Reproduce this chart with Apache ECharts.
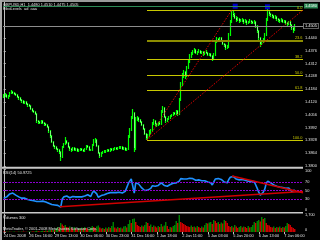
<!DOCTYPE html>
<html><head><meta charset="utf-8">
<script src="https://cdn.jsdelivr.net/npm/echarts@6/dist/echarts.min.js"></script>
<style>html,body{margin:0;padding:0;background:#000;overflow:hidden}#c{width:320px;height:240px}</style>
</head><body><div id="c"></div>
<script>
// ---- data (GBPUSD H1) ----
const opens = [
1.4145,1.4150,1.4155,1.4145,1.4150,1.4165,1.4170,1.4165,1.4160,1.4155,
1.4145,1.4140,1.4130,1.4125,1.4115,1.4120,1.4110,1.4105,1.4100,1.4085,
1.4075,1.4070,1.4060,1.4025,1.4020,1.4015,1.4025,1.4015,1.4010,1.4005,
1.3995,1.3975,1.3950,1.3920,1.3900,1.3895,1.3885,1.3880,1.3870,1.3845,
1.3895,1.3910,1.3925,1.3915,1.3895,1.3885,1.3880,1.3890,1.3880,1.3885,
1.3875,1.3880,1.3885,1.3880,1.3875,1.3885,1.3900,1.3895,1.3880,1.3880,
1.3905,1.3925,1.3930,1.3900,1.3865,1.3850,1.3865,1.3870,1.3870,1.3875,
1.3880,1.3875,1.3885,1.3880,1.3885,1.3890,1.3885,1.3890,1.3890,1.3895,
1.3885,1.3890,1.3880,1.3885,1.3945,1.3980,1.4040,1.4065,1.3890,1.4035,
1.4040,1.4030,1.4020,1.4005,1.3985,1.3960,1.3940,1.3950,1.3970,1.3975,
1.4010,1.4025,1.4010,1.4005,1.4015,1.4010,1.4070,1.4090,1.4045,1.4025,
1.4035,1.4040,1.4050,1.4055,1.4065,1.4060,1.4075,1.4060,1.4130,1.4210,
1.4255,1.4270,1.4250,1.4290,1.4320,1.4350,1.4360,1.4370,1.4380,1.4365,
1.4370,1.4375,1.4365,1.4370,1.4360,1.4370,1.4365,1.4355,1.4360,1.4350,
1.4335,1.4355,1.4420,1.4435,1.4430,1.4440,1.4425,1.4410,1.4405,1.4390,
1.4395,1.4455,1.4520,1.4560,1.4555,1.4540,1.4530,1.4535,1.4525,1.4525,
1.4530,1.4520,1.4525,1.4515,1.4520,1.4525,1.4520,1.4515,1.4520,1.4500,
1.4475,1.4440,1.4410,1.4420,1.4430,1.4455,1.4530,1.4570,1.4560,1.4555,
1.4550,1.4540,1.4545,1.4535,1.4530,1.4525,1.4530,1.4520,1.4525,1.4515,
1.4510,1.4520,1.4505,1.4490,1.4480];
const closes = [
1.4150,1.4155,1.4145,1.4150,1.4165,1.4170,1.4165,1.4160,1.4155,1.4145,
1.4140,1.4130,1.4125,1.4115,1.4120,1.4110,1.4105,1.4100,1.4085,1.4075,
1.4070,1.4060,1.4025,1.4020,1.4015,1.4025,1.4015,1.4010,1.4005,1.3995,
1.3975,1.3950,1.3920,1.3900,1.3895,1.3885,1.3880,1.3870,1.3845,1.3895,
1.3910,1.3925,1.3915,1.3895,1.3885,1.3880,1.3890,1.3880,1.3885,1.3875,
1.3880,1.3885,1.3880,1.3875,1.3885,1.3900,1.3895,1.3880,1.3880,1.3905,
1.3925,1.3930,1.3900,1.3865,1.3850,1.3865,1.3870,1.3870,1.3875,1.3880,
1.3875,1.3885,1.3880,1.3885,1.3890,1.3885,1.3890,1.3890,1.3895,1.3885,
1.3890,1.3880,1.3885,1.3945,1.3980,1.4040,1.4065,1.3890,1.4035,1.4040,
1.4030,1.4020,1.4005,1.3985,1.3960,1.3940,1.3950,1.3970,1.3975,1.4010,
1.4025,1.4010,1.4005,1.4015,1.4010,1.4070,1.4090,1.4045,1.4025,1.4035,
1.4040,1.4050,1.4055,1.4065,1.4060,1.4075,1.4060,1.4130,1.4210,1.4255,
1.4270,1.4250,1.4290,1.4320,1.4350,1.4360,1.4370,1.4380,1.4365,1.4370,
1.4375,1.4365,1.4370,1.4360,1.4370,1.4365,1.4355,1.4360,1.4350,1.4335,
1.4355,1.4420,1.4435,1.4430,1.4440,1.4425,1.4410,1.4405,1.4390,1.4395,
1.4455,1.4520,1.4560,1.4555,1.4540,1.4530,1.4535,1.4525,1.4525,1.4530,
1.4520,1.4525,1.4515,1.4520,1.4525,1.4520,1.4515,1.4520,1.4500,1.4475,
1.4440,1.4410,1.4420,1.4430,1.4455,1.4530,1.4570,1.4560,1.4555,1.4550,
1.4540,1.4545,1.4535,1.4530,1.4525,1.4530,1.4520,1.4525,1.4515,1.4510,
1.4520,1.4505,1.4490,1.4480,1.4505];
const lows = [
1.4140,1.4145,1.4140,1.4135,1.4145,1.4160,1.4160,1.4155,1.4150,1.4140,
1.4130,1.4125,1.4115,1.4110,1.4110,1.4105,1.4095,1.4095,1.4080,1.4070,
1.4065,1.4055,1.4015,1.4010,1.4010,1.4010,1.4010,1.4000,1.4000,1.3990,
1.3965,1.3940,1.3915,1.3895,1.3885,1.3880,1.3870,1.3860,1.3825,1.3840,
1.3890,1.3905,1.3910,1.3890,1.3875,1.3870,1.3875,1.3875,1.3875,1.3870,
1.3870,1.3875,1.3875,1.3870,1.3870,1.3880,1.3890,1.3875,1.3875,1.3875,
1.3900,1.3915,1.3895,1.3860,1.3840,1.3845,1.3860,1.3865,1.3865,1.3870,
1.3870,1.3870,1.3875,1.3875,1.3880,1.3880,1.3880,1.3885,1.3885,1.3880,
1.3880,1.3875,1.3875,1.3880,1.3940,1.3975,1.4035,1.3870,1.3880,1.4025,
1.4020,1.4015,1.4000,1.3980,1.3955,1.3930,1.3935,1.3945,1.3960,1.3970,
1.4005,1.4000,1.3995,1.4000,1.4005,1.4005,1.4065,1.4040,1.4015,1.4020,
1.4030,1.4035,1.4045,1.4050,1.4055,1.4055,1.4050,1.4055,1.4125,1.4200,
1.4240,1.4235,1.4245,1.4285,1.4315,1.4340,1.4355,1.4365,1.4360,1.4355,
1.4365,1.4360,1.4360,1.4350,1.4355,1.4360,1.4350,1.4350,1.4345,1.4325,
1.4330,1.4350,1.4415,1.4420,1.4425,1.4420,1.4405,1.4395,1.4380,1.4385,
1.4390,1.4450,1.4515,1.4545,1.4535,1.4520,1.4525,1.4515,1.4520,1.4520,
1.4510,1.4515,1.4505,1.4510,1.4515,1.4510,1.4510,1.4510,1.4490,1.4465,
1.4430,1.4395,1.4405,1.4415,1.4425,1.4450,1.4525,1.4550,1.4545,1.4540,
1.4535,1.4535,1.4525,1.4520,1.4515,1.4520,1.4515,1.4515,1.4505,1.4500,
1.4505,1.4495,1.4480,1.4465,1.4475];
const highs = [
1.4160,1.4165,1.4160,1.4155,1.4170,1.4180,1.4175,1.4170,1.4165,1.4160,
1.4150,1.4145,1.4135,1.4130,1.4125,1.4125,1.4115,1.4110,1.4105,1.4090,
1.4080,1.4075,1.4065,1.4030,1.4025,1.4030,1.4030,1.4020,1.4015,1.4010,
1.4000,1.3980,1.3955,1.3925,1.3905,1.3900,1.3890,1.3885,1.3875,1.3900,
1.3915,1.3945,1.3930,1.3920,1.3900,1.3890,1.3895,1.3895,1.3890,1.3890,
1.3885,1.3890,1.3890,1.3885,1.3890,1.3905,1.3905,1.3900,1.3885,1.3910,
1.3935,1.3940,1.3935,1.3905,1.3870,1.3870,1.3875,1.3880,1.3880,1.3885,
1.3885,1.3890,1.3890,1.3890,1.3895,1.3895,1.3895,1.3900,1.3900,1.3900,
1.3895,1.3895,1.3890,1.3955,1.3990,1.4050,1.4085,1.4070,1.4045,1.4050,
1.4045,1.4035,1.4025,1.4010,1.3990,1.3965,1.3960,1.3980,1.3985,1.4020,
1.4035,1.4030,1.4015,1.4020,1.4025,1.4080,1.4100,1.4095,1.4050,1.4040,
1.4050,1.4055,1.4060,1.4070,1.4070,1.4080,1.4080,1.4140,1.4220,1.4265,
1.4280,1.4275,1.4300,1.4330,1.4360,1.4370,1.4380,1.4390,1.4385,1.4375,
1.4385,1.4380,1.4375,1.4375,1.4375,1.4380,1.4370,1.4365,1.4365,1.4355,
1.4365,1.4430,1.4445,1.4440,1.4445,1.4445,1.4430,1.4415,1.4410,1.4405,
1.4465,1.4530,1.4580,1.4575,1.4565,1.4550,1.4545,1.4540,1.4535,1.4540,
1.4535,1.4535,1.4530,1.4525,1.4535,1.4530,1.4525,1.4530,1.4525,1.4505,
1.4480,1.4445,1.4430,1.4440,1.4465,1.4540,1.4585,1.4575,1.4565,1.4560,
1.4555,1.4555,1.4550,1.4540,1.4535,1.4540,1.4535,1.4530,1.4530,1.4520,
1.4525,1.4525,1.4510,1.4495,1.4510];
const rsi = [
32,30,35,37,42,44,44,42,39,37,
35,34,32,30,32,30,29,29,27,26,
26,25,24,24,24,27,25,24,23,22,
20,19,17,16,16,15,15,14,11,30,
35,39,37,34,33,33,36,34,35,33,
35,36,35,34,37,41,40,36,36,44,
49,51,42,34,33,38,40,40,41,43,
42,45,43,45,46,45,46,46,47,44,
46,48,50,66,72,77,79,44,68,67,
65,61,56,53,50,49,51,54,55,61,
63,60,59,62,58,68,70,62,58,60,
62,64,65,67,66,68,65,72,78,80,
77,74,77,78,79,79,78,78,74,74,
75,72,73,71,73,72,70,71,68,63,
67,77,79,78,80,76,72,70,67,68,
76,81,84,83,79,77,78,75,75,76,
73,74,71,72,73,71,70,71,63,55,
46,39,42,46,53,67,72,70,68,66,
63,64,60,60,58,60,57,58,55,54,
56,52,48,46,51];
const volumes = [
60,40,50,30,40,20,30,40,30,20,40,30,50,40,30,20,30,40,60,50,40,70,120,80,60,
90,120,100,150,130,160,200,180,220,190,
350,500,420,
900,750,600,700,500,450,550,
400,300,500,350,250,400,300,450,350,500,400,300,350,
450,600,500,400,550,650,450,
350,400,300,450,350,500,400,600,1000,450,350,500,400,450,350,550,
600,450,800,1200,900,1300,1350,1000,700,600,
500,650,550,700,1000,900,600,750,500,650,550,450,600,500,
800,550,650,1000,600,300,500,450,600,700,1100,900,1700,
1000,900,800,700,600,550,500,650,500,550,450,600,500,400,550,450,700,900,850,950,
1000,800,1200,1100,900,1000,800,950,850,1200,1100,900,600,
500,600,450,700,550,400,500,600,450,550,500,400,600,450,500,700,1000,900,1100,1200,1050,
1500,1300,1400,900,700,650,
500,450,550,400,500,450,550,400,500,450,600,900,800,700,500,400,300];
const timeLabels = ['24 Dec 2008','26 Dec 16:00','29 Dec 13:00','30 Dec 06:00','30 Dec 23:00','31 Dec 16:00','1 Jan 18:00','2 Jan 11:00','5 Jan 03:00','5 Jan 20:00','6 Jan 13:00','7 Jan 06:00'];
const priceTicks = [1.3800,1.3864,1.3928,1.3992,1.4056,1.4120,1.4184,1.4248,1.4312,1.4376,1.4440];
const rsiTicks = [0,30,50,70,100];
const volTicks = [0,1700];
const fibLevels = [0,23.6,38.2,50,61.8,100];
const fibLow = 1.3930, fibHigh = 1.4580;
const fibLowBar = 95.5, fibHighBar = 152;
const hLinePrice = 1.4580;
const markerBars = [154.3, 175.8];
const markerPrices = [1.4599, 1.4596];
const rsiUpLine = [[37.5, 11.9],[199.5, 47.6]];
const rsiDownLine = [[152.2, 84],[199.5, 44.8]];
const supportLine = [[95.5, 1.3930],[199.5, 1.4580]];

// ---- chart ----
const FONT = '"Liberation Sans", Arial, sans-serif';
const FS = 3.9;
const TXT = '#e0e0e0';
const XMIN = -0.5, XMAX = 199.5;
const last = closes.length - 1;
const barsPerLabel = 17;
const labelBars = timeLabels.map((_, i) => i * barsPerLabel);

const candleData = opens.map((o, i) => [i, o, closes[i], lows[i], highs[i]]);
const bearBodies = [];
opens.forEach((o, i) => { if (closes[i] < o) bearBodies.push([i, o, closes[i], closes[i], o]); });

const fibLines = fibLevels.map(l => {
  const p = fibHigh - (fibHigh - fibLow) * l / 100;
  const is236 = l === 23.6;
  return [{coord: [fibLowBar, p], lineStyle: {color: is236 ? '#8c8c00' : '#c8c800', width: is236 ? 2 : 1, type: 'solid'},
    label: {show: true, position: 'insideEndTop', formatter: l.toFixed(1), color: '#c8c800', fontSize: FS, fontFamily: FONT, distance: 0.5, padding: 0}},
    {coord: [XMAX, p]}];
});

const option = {
  backgroundColor: '#000',
  animation: false,
  grid: [
    {left: 3, right: 17, top: 2, height: 165},
    {left: 3, right: 17, top: 169.25, height: 42.5},
    {left: 3, right: 17, top: 214, height: 18}
  ],
  xAxis: [0, 1, 2].map(g => ({
    type: 'value', gridIndex: g, min: XMIN, max: XMAX,
    splitLine: {show: false}, axisLine: {show: false},
    axisTick: g === 2 ? {show: true, customValues: labelBars, length: 2, lineStyle: {color: '#c0c0c0'}} : {show: false},
    axisLabel: g === 2 ? {show: true, customValues: labelBars, align: 'left', margin: 2, color: TXT, fontSize: FS, fontFamily: FONT,
      formatter: v => timeLabels[labelBars.indexOf(v)] || ''} : {show: false}
  })),
  yAxis: [
    {type: 'value', gridIndex: 0, position: 'right', min: 1.3795, max: 1.4620, splitLine: {show: false},
     axisLine: {show: true, lineStyle: {color: '#c0c0c0'}},
     axisTick: {show: true, length: 2, customValues: priceTicks, lineStyle: {color: '#c0c0c0'}},
     axisLabel: {customValues: priceTicks, formatter: v => v.toFixed(4), color: TXT, fontSize: FS, fontFamily: FONT, margin: 2}},
    {type: 'value', gridIndex: 1, position: 'right', min: 0, max: 100, splitLine: {show: false},
     axisLine: {show: true, lineStyle: {color: '#c0c0c0'}},
     axisTick: {show: true, length: 2, customValues: rsiTicks, lineStyle: {color: '#c0c0c0'}},
     axisLabel: {customValues: rsiTicks, color: TXT, fontSize: FS, fontFamily: FONT, margin: 2,
       verticalAlignMaxLabel: 'top', verticalAlignMinLabel: 'bottom'}},
    {type: 'value', gridIndex: 2, position: 'right', min: 0, max: 1800, splitLine: {show: false},
     axisLine: {show: true, lineStyle: {color: '#c0c0c0'}},
     axisTick: {show: true, length: 2, customValues: volTicks, lineStyle: {color: '#c0c0c0'}},
     axisLabel: {customValues: volTicks, color: TXT, fontSize: FS, fontFamily: FONT, margin: 2,
       verticalAlignMinLabel: 'bottom'}}
  ],
  series: [
    {
      type: 'candlestick', xAxisIndex: 0, yAxisIndex: 0, barWidth: 1.2, data: candleData,
      itemStyle: {color: '#000000', color0: '#ffffff', borderColor: '#00ff00', borderColor0: '#00ff00', borderWidth: 1.2},
      markLine: {
        silent: true, symbol: ['none', 'none'], animation: false,
        data: [
          ...fibLines,
          [{coord: [fibLowBar, fibLow], lineStyle: {color: '#e00000', type: [1.5, 1.5], width: 1}, label: {show: false}}, {coord: [fibHighBar, fibHigh]}],
          [{coord: supportLine[0], lineStyle: {color: '#e00000', type: [1.5, 1.5], width: 1}, label: {show: false}}, {coord: supportLine[1]}],
          {yAxis: hLinePrice, lineStyle: {color: '#2e8b57', width: 1, type: 'solid'},
           label: {show: true, position: 'end', formatter: hLinePrice.toFixed(4), backgroundColor: '#2e8b57', color: '#ffffff',
             fontSize: FS, fontFamily: FONT, padding: [0.5, 1], distance: 1}},
          {yAxis: closes[last], lineStyle: {color: '#8c8c8c', width: 1, type: 'solid'},
           label: {show: true, position: 'end', formatter: closes[last].toFixed(4), backgroundColor: '#000000', borderColor: '#c0c0c0', borderWidth: 0.6,
             color: '#ffffff', fontSize: FS, fontFamily: FONT, padding: [0.5, 1], distance: 1}}
        ]
      }
    },
    {
      type: 'candlestick', xAxisIndex: 0, yAxisIndex: 0, barWidth: 1, data: bearBodies, silent: true,
      itemStyle: {color: '#f0fff0', color0: '#f0fff0', borderColor: '#f0fff0', borderColor0: '#f0fff0', borderWidth: 0.5}
    },
    {
      type: 'scatter', xAxisIndex: 0, yAxisIndex: 0, symbol: 'rect', symbolSize: 5, silent: true,
      data: markerBars.map((b, i) => [b, markerPrices[i]]), itemStyle: {color: '#0000ff'}
    },
    {
      type: 'line', xAxisIndex: 1, yAxisIndex: 1, showSymbol: false, silent: true,
      data: rsi.map((v, i) => [i, v]), lineStyle: {color: '#1e90ff', width: 1.6},
      markLine: {
        silent: true, symbol: ['none', 'none'], animation: false, label: {show: false},
        data: [
          {yAxis: 70, lineStyle: {color: '#8b00d0', type: [2, 1], width: 1}},
          {yAxis: 50, lineStyle: {color: '#8b00d0', type: [2, 1], width: 1}},
          {yAxis: 30, lineStyle: {color: '#8b00d0', type: [2, 1], width: 1}},
          [{coord: rsiUpLine[0], lineStyle: {color: '#d00000', type: 'solid', width: 1.5}}, {coord: rsiUpLine[1]}],
          [{coord: rsiDownLine[0], lineStyle: {color: '#d00000', type: 'solid', width: 1.5}}, {coord: rsiDownLine[1]}]
        ]
      }
    },
    {
      type: 'bar', xAxisIndex: 2, yAxisIndex: 2, barWidth: 1.3, silent: true,
      data: volumes.map((v, i) => ({value: [i, v], itemStyle: {color: i > 0 && v > volumes[i - 1] ? '#008f00' : '#e00000'}}))
    }
  ],
  graphic: [
    {type: 'rect', shape: {x: 0, y: 0, width: 320, height: 2}, style: {fill: '#9a9a9a'}, z: 100, silent: true},
    {type: 'rect', shape: {x: 0, y: 0, width: 2, height: 240}, style: {fill: '#a8a8a8'}, z: 100, silent: true},
    {type: 'rect', shape: {x: 2, y: 166.7, width: 301, height: 2}, style: {fill: '#c8c8c8'}, z: 100, silent: true},
    {type: 'rect', shape: {x: 2, y: 211.9, width: 301, height: 1.6}, style: {fill: '#c8c8c8'}, z: 100, silent: true},
    {type: 'text', x: 3, y: 3, z: 100, silent: true, style: {text: 'GBPUSD,H1  1.4480 1.4510 1.4475 1.4505', fill: TXT, fontSize: FS, fontFamily: FONT}},
    {type: 'text', x: 3, y: 6.8, z: 100, silent: true, style: {text: 'FiboLevels  ad  aaa', fill: TXT, fontSize: FS, fontFamily: FONT}},
    {type: 'text', x: 3, y: 170.5, z: 100, silent: true, style: {text: 'RSI(14) 50.9725', fill: TXT, fontSize: FS, fontFamily: FONT}},
    {type: 'text', x: 3, y: 215.5, z: 100, silent: true, style: {text: 'Volumes 300', fill: TXT, fontSize: FS, fontFamily: FONT}},
    {type: 'text', x: 3, y: 227, z: 100, silent: true, style: {text: 'MetaTrader, \u00a9 2001-2008 MetaQuotes Software Corp.', fill: TXT, fontSize: FS, fontFamily: FONT}}
  ]
};
const chart = echarts.init(document.getElementById('c'), null, {renderer: 'canvas', width: 320, height: 240});
chart.setOption(option);
</script>
</body></html>
